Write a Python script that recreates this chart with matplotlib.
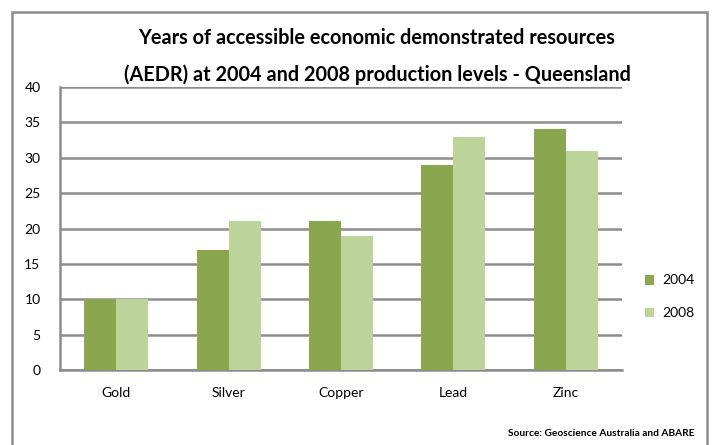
import matplotlib
matplotlib.use("Agg")
import matplotlib.pyplot as plt
import numpy as np
from matplotlib.patches import Rectangle

categories = ["Gold", "Silver", "Copper", "Lead", "Zinc"]
series_2004 = [10, 17, 21, 29, 34]
series_2008 = [10, 21, 19, 33, 31]
yticks = [0, 5, 10, 15, 20, 25, 30, 35, 40]
title_lines = ["Years of accessible economic demonstrated resources",
               "(AEDR) at 2004 and 2008 production levels - Queensland"]
source = "Source: Geoscience Australia and ABARE"

c2004 = "#8aa64e"
c2008 = "#bcd39a"
grid_c = "#8c8c8c"

plt.rcParams['font.family'] = ['Lato', 'DejaVu Sans']

W, H = 713, 445
fig = plt.figure(figsize=(W/100, H/100), dpi=100)
fig.patches.append(Rectangle((12/W, -0.01), (707-12)/W, (445-12)/H + 0.01,
                             transform=fig.transFigure, fill=False,
                             edgecolor="#8c8c8c", linewidth=1.8))

ax = fig.add_axes([60/W, 1-370/H, (622-60)/W, (370-87)/H])
x = np.arange(len(categories))
bw = 0.285
ax.bar(x - bw/2, series_2004, bw, color=c2004, label="2004", zorder=3)
ax.bar(x + bw/2, series_2008, bw, color=c2008, label="2008", zorder=3)
ax.set_xlim(-0.5, len(categories) - 0.5)
ax.set_ylim(0, 40)
ax.set_yticks(yticks)
ax.set_xticks(x)
ax.set_xticklabels(categories)
ax.yaxis.grid(True, color=grid_c, linewidth=1.8, zorder=0)
ax.set_axisbelow(True)
for s in ["top", "right"]:
    ax.spines[s].set_visible(False)
for s in ["left", "bottom"]:
    ax.spines[s].set_color(grid_c)
    ax.spines[s].set_linewidth(1.8)
ax.tick_params(axis="y", length=0, labelsize=10, pad=14)
ax.tick_params(axis="x", length=0, labelsize=10, pad=12)

fig.text(377/W, 1-38/H, title_lines[0],
         ha="center", va="center", fontsize=14.3, fontweight="bold")
fig.text(377/W, 1-75/H, title_lines[1],
         ha="center", va="center", fontsize=14.3, fontweight="bold")

leg = ax.legend(loc="upper left", bbox_to_anchor=(632/W, 1-262/H), bbox_transform=fig.transFigure,
                frameon=False, fontsize=10, handlelength=0.7, handleheight=0.7,
                labelspacing=1.5, handletextpad=0.6)

fig.text(695/W, 1-433/H, source, ha="right", va="center", fontsize=7.3, fontweight="bold")

fig.savefig("out.png", dpi=100)
